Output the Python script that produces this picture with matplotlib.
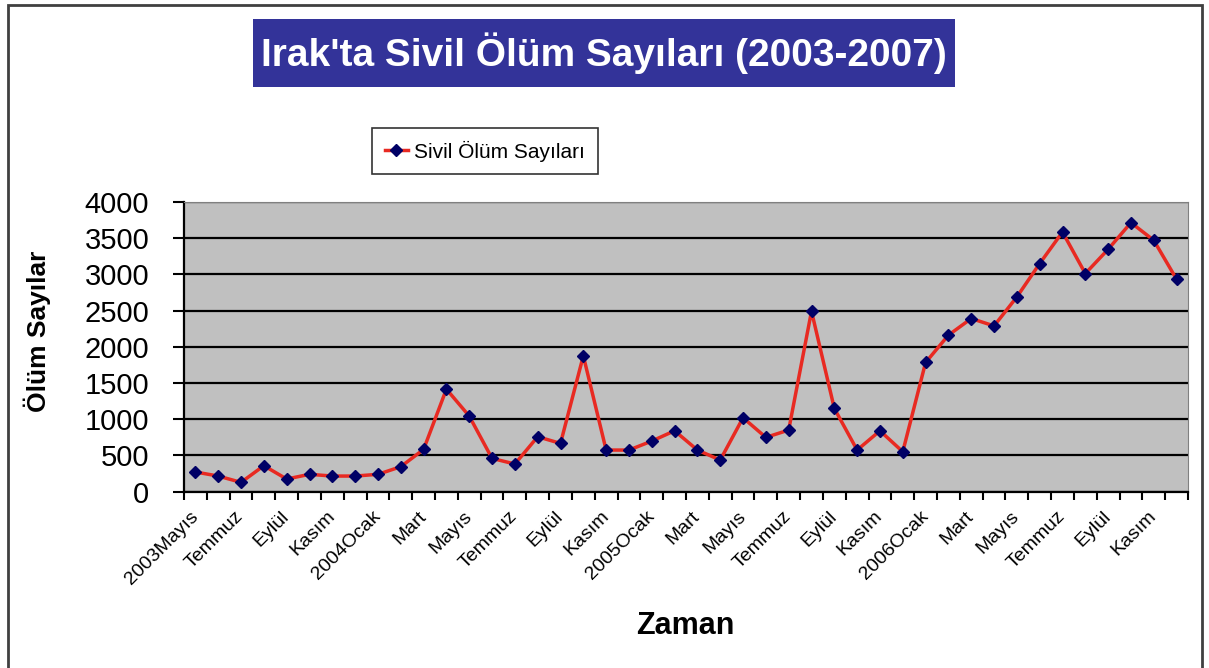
import matplotlib
matplotlib.use("Agg")
import matplotlib.pyplot as plt
import matplotlib.patches as mpatches
import matplotlib.transforms as mtransforms
import numpy as np

# data (monthly, 2003 Mayis -> 2006 Aralik)
olum = [272, 216, 129, 359, 175, 240, 216, 216, 240, 345, 584, 1416, 1044, 460,
        382, 759, 667, 1876, 575, 575, 699, 841, 575, 437, 1021, 750, 851, 2492,
        1150, 575, 841, 552, 1784, 2161, 2391, 2289, 2689, 3150, 3585, 3012, 3347,
        3715, 3471, 2933]
etiketler = ["2003Mayıs", "Temmuz", "Eylül", "Kasım", "2004Ocak", "Mart", "Mayıs",
             "Temmuz", "Eylül", "Kasım", "2005Ocak", "Mart", "Mayıs", "Temmuz",
             "Eylül", "Kasım", "2006Ocak", "Mart", "Mayıs", "Temmuz", "Eylül", "Kasım"]
y_ticks = [0, 500, 1000, 1500, 2000, 2500, 3000, 3500, 4000]

baslik = "Irak'ta Sivil Ölüm Sayıları (2003-2007)"
seri_adi = "Sivil Ölüm Sayıları"

plt.rcParams['font.family'] = ["Liberation Sans", "DejaVu Sans"]

W, H = 1209, 668
fig = plt.figure(figsize=(W / 100, H / 100), dpi=100)

def fx(px):
    return px / W

def fy(py):
    return 1 - py / H

# outer frame
fig.patches.append(mpatches.Rectangle((fx(8), fy(700)), fx(1202) - fx(8), fy(5) - fy(700),
                                      transform=fig.transFigure, fill=False,
                                      edgecolor='#404040', linewidth=2))

ax = fig.add_axes([fx(184), fy(491.7), fx(1188) - fx(184), fy(202) - fy(491.7)])
ax.set_facecolor('#C0C0C0')

x = np.arange(len(olum))
ax.plot(x, olum, color='#E82A22', linewidth=2.5, marker='D', markersize=6,
        markerfacecolor='#000066', markeredgecolor='#000066', label=seri_adi, zorder=3)

ax.set_xlim(-0.5, len(olum) - 0.5)
ax.set_ylim(0, 4000)

# gridlines
ax.set_yticks(y_ticks)
ax.set_yticklabels([str(v) for v in y_ticks], fontsize=21)
ax.yaxis.grid(True, color='black', linewidth=1.6)
ax.set_axisbelow(True)

# category boundaries as ticks, labels every second month
ax.set_xticks(np.arange(-0.5, len(olum), 1))
ax.set_xticklabels([])
ax.set_xticks(np.arange(0, len(olum), 2), minor=True)
ax.set_xticklabels(etiketler, minor=True, rotation=45, ha='right', va='center',
                   rotation_mode='anchor', fontsize=14)
kaydir = mtransforms.ScaledTranslation(-10 / 100, 0, fig.dpi_scale_trans)
for lbl in ax.get_xticklabels(minor=True):
    lbl.set_transform(lbl.get_transform() + kaydir)
ax.tick_params(axis='x', which='major', direction='out', length=6, width=1.5)
ax.tick_params(axis='x', which='minor', length=0, pad=16)
ax.tick_params(axis='y', direction='out', length=8, width=1.5, pad=17)

ax.spines['left'].set_linewidth(1.6)
ax.spines['bottom'].set_linewidth(1.6)
ax.spines['top'].set_color('#808080')
ax.spines['right'].set_color('#808080')

ax.set_ylabel("Ölüm Sayılar", fontsize=19, fontweight='bold')
ax.yaxis.set_label_coords((51 - 184) / 1004, 0.553)
fig.text(fx(685), fy(626), "Zaman", fontsize=22, fontweight='bold', ha='center', va='center')

# title box
fig.patches.append(mpatches.Rectangle((fx(253), fy(87)), fx(955) - fx(253), fy(19) - fy(87),
                                      transform=fig.transFigure, facecolor='#333399',
                                      edgecolor='none'))
fig.text(fx(604), fy(53), baslik, color='white', fontsize=28, fontweight='bold',
         ha='center', va='center')

leg = ax.legend(loc='center', bbox_to_anchor=(fx(485), fy(151)), bbox_transform=fig.transFigure,
                fontsize=15, frameon=True, fancybox=False, edgecolor='black',
                handlelength=1.1, handletextpad=0.3, borderpad=0.6, borderaxespad=0)
leg.get_frame().set_linewidth(1.2)

plt.savefig("out.png", dpi=100)
